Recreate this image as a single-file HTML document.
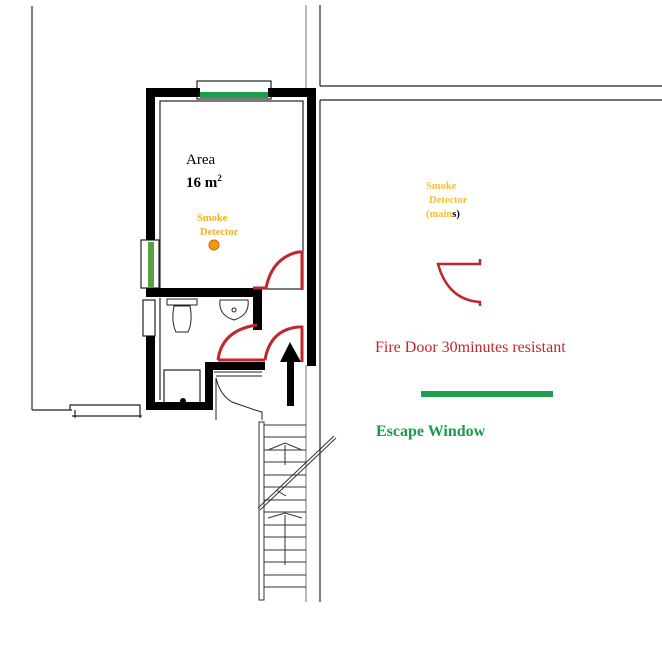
<!DOCTYPE html>
<html><head><meta charset="utf-8"><style>
html,body{margin:0;padding:0;background:#fff;}
svg{display:block;}
text{font-family:"Liberation Serif",serif;}
</style></head><body>
<svg width="662" height="658" viewBox="0 0 662 658" xmlns="http://www.w3.org/2000/svg">
<rect width="662" height="658" fill="#fff"/>
<g stroke="#222" stroke-width="1.2" fill="none">
<line x1="32" y1="6" x2="32" y2="410"/>
<line x1="32" y1="410" x2="72" y2="410"/>
<polyline points="70,410 70,405 140,405 140,410"/>
<line x1="72" y1="416" x2="142" y2="416"/>
<line x1="75" y1="410" x2="75" y2="418"/>
<line x1="140" y1="410" x2="140" y2="418"/>
<line x1="306" y1="5" x2="306" y2="90" stroke="#888"/>
<line x1="320" y1="5" x2="320" y2="86"/>
<line x1="320" y1="86" x2="662" y2="86"/>
<line x1="320" y1="100" x2="662" y2="100"/>
<line x1="320" y1="100" x2="320" y2="602"/>
<line x1="306" y1="365" x2="306" y2="602" stroke="#888"/>
<rect x="160" y="101" width="143" height="188"/>
<rect x="197" y="81" width="74" height="18"/>
<rect x="141" y="240" width="18" height="48"/>
<rect x="143" y="300" width="12" height="36"/>
<line x1="160" y1="298" x2="160" y2="400"/>
<rect x="164" y="370" width="36" height="38"/>
</g>
<!-- walls -->
<g fill="#000">
<rect x="146" y="88" width="54" height="9"/>
<rect x="268" y="88" width="48" height="9"/>
<rect x="146" y="88" width="9" height="152"/>
<rect x="307" y="88" width="9" height="278"/>
<rect x="146" y="288" width="112" height="9"/>
<rect x="253" y="288" width="9" height="42"/>
<rect x="146" y="336" width="9" height="74"/>
<rect x="146" y="402" width="67" height="8"/>
<rect x="205" y="364" width="8" height="46"/>
<rect x="205" y="362" width="60" height="8"/>
<circle cx="183" cy="401" r="3"/>
</g>
<rect x="200" y="92" width="68" height="6" fill="#1aa04a"/>
<rect x="148" y="242" width="6" height="45" fill="#5aa040"/>
<!-- toilet & sink -->
<g stroke="#222" stroke-width="1" fill="none">
<rect x="167" y="299" width="30" height="6"/>
<path d="M174,306 Q171,322 176,332 L188,332 Q193,322 190,306Z"/>
<path d="M220,300 L248,300 Q250,315 234,320 Q218,315 220,300Z"/>
<circle cx="234" cy="310" r="2"/>
<path d="M214,372 L262,372 M216,376 L262,376 M216,378 Q220,395 232,402 L255,410 L262,412 L262,420"/>
<line x1="216" y1="378" x2="216" y2="420"/>
</g>
<!-- doors -->
<g stroke="#c0272d" stroke-width="3" fill="none">
<path d="M253,288 L266,288 Q272,258 298,252 L302,252 L302,290"/>
<path d="M218,360 Q222,330 257,325 M265,360 Q270,330 298,327 L302,327 L302,362"/>
<line x1="218" y1="360" x2="265" y2="360"/>
</g>
<!-- arrow -->
<rect x="287" y="360" width="7" height="46" fill="#000"/>
<polygon points="280,362 290,342 301,362" fill="#000"/>
<!-- stairs -->
<g stroke="#333" stroke-width="1" fill="none">
<rect x="259" y="422" width="5" height="178"/>
<line x1="264" y1="425" x2="306" y2="425"/>
<line x1="264" y1="437" x2="306" y2="437"/>
<line x1="264" y1="450" x2="306" y2="450"/>
<line x1="264" y1="462" x2="306" y2="462"/>
<line x1="264" y1="475" x2="306" y2="475"/>
<line x1="264" y1="487" x2="306" y2="487"/>
<line x1="264" y1="500" x2="306" y2="500"/>
<line x1="264" y1="512" x2="306" y2="512"/>
<line x1="264" y1="525" x2="306" y2="525"/>
<line x1="264" y1="537" x2="306" y2="537"/>
<line x1="264" y1="550" x2="306" y2="550"/>
<line x1="264" y1="562" x2="306" y2="562"/>
<line x1="264" y1="575" x2="306" y2="575"/>
<line x1="264" y1="587" x2="306" y2="587"/>
<line x1="285" y1="445" x2="285" y2="465"/>
<line x1="285" y1="515" x2="285" y2="565"/>
<path d="M268,450 L285,443 L302,450"/>
<path d="M268,518 L285,513 L302,518"/>
<path d="M258,508 L334,436 M260,510 L336,438" stroke-width="1"/>
<path d="M276,490 L286,496"/>
</g>
<!-- labels -->
<text x="186" y="164" font-size="15" fill="#000">Area</text>
<text x="186" y="187" font-size="15" font-weight="bold" fill="#000">16 m<tspan font-size="9" dy="-6">2</tspan></text>
<text x="197" y="221" font-size="10.5" font-weight="bold" fill="#f0b020">Smoke</text>
<text x="200" y="235" font-size="10.5" font-weight="bold" fill="#f0b020">Detector</text>
<circle cx="214" cy="245" r="5" fill="#f59a10" stroke="#c07000" stroke-width="1"/>
<text x="426" y="189" font-size="10.5" font-weight="bold" fill="#f0c040">Smoke</text>
<text x="429" y="203" font-size="10.5" font-weight="bold" fill="#f0c040">Detector</text>
<text x="426" y="217" font-size="10.5" font-weight="bold" fill="#f0c040">(main<tspan fill="#000">s)</tspan></text>
<path d="M480,259 L480,264 L438,264 Q448,300 480,302 L480,306" stroke="#c0272d" stroke-width="2.5" fill="none"/>
<text x="375" y="352" font-size="16" fill="#c0272d">Fire Door 30minutes resistant</text>
<rect x="421" y="391" width="132" height="6" fill="#1aa04a"/>
<text x="376" y="436" font-size="16" font-weight="bold" fill="#1a9a4a">Escape Window</text>
</svg>
</body></html>
